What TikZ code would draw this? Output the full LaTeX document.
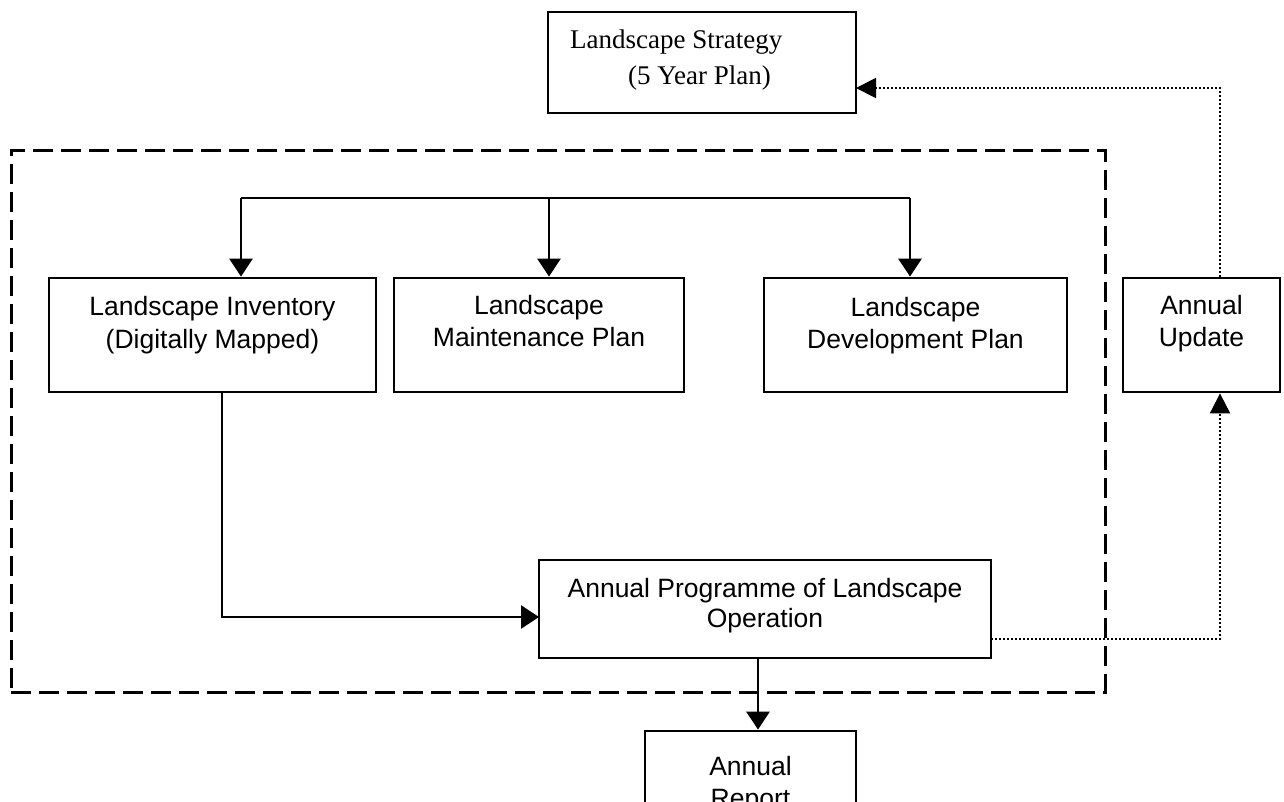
\documentclass[tikz,border=0pt]{standalone}
\usepackage{fontspec}
\setmainfont{Liberation Sans}
\newfontfamily\serifface{Liberation Serif}
\usetikzlibrary{arrows.meta}
\tikzset{
  box/.style={draw, line width=2.8pt, inner sep=0pt, rectangle},
  frame/.style={draw, line width=3pt, dash pattern=on 20pt off 8pt, inner sep=0pt, rectangle},
  conn/.style={line width=2.8pt},
  arr/.style={line width=2.8pt, -{Triangle[width=23pt,length=18pt]}},
  dotarr/.style={line width=2pt, dash pattern=on 2pt off 2pt, -{Triangle[width=20pt,length=20pt]}},
  txt/.style={font=\fontsize{26.5}{32}\selectfont, align=center, inner sep=0pt, anchor=north},
  sertxt/.style={font=\serifface\fontsize{27}{36}\selectfont, align=left, inner sep=0pt, anchor=north west}
}
\begin{document}
\begin{tikzpicture}[x=1pt,y=-1pt]
\clip (0,0) rectangle (1284,801);
\fill[white] (0,0) rectangle (1284,801);

% boxes
\node[box, minimum width=308pt, minimum height=101pt] (strat) at (702,62.5) {};
\node[frame, minimum width=1094pt, minimum height=542pt] (grp) at (558,421) {};
\node[box, minimum width=327pt, minimum height=114pt] (inv) at (212.5,335) {};
\node[box, minimum width=290pt, minimum height=114pt] (maint) at (539,335) {};
\node[box, minimum width=303pt, minimum height=114pt] (dev) at (915.5,335) {};
\node[box, minimum width=157pt, minimum height=114pt] (upd) at (1201.5,335) {};
\node[box, minimum width=452pt, minimum height=98pt] (prog) at (765,609) {};
\node[box, minimum width=211pt, minimum height=120pt] (rep) at (750.5,791) {};

% texts
\node[sertxt] (stratt) at (570,30) {Landscape Strategy\\\hspace*{58pt}(5 Year Plan)};
\node[txt, font=\fontsize{26.5}{33}\selectfont] (invt) at (212.5,296) {Landscape Inventory\\(Digitally Mapped)};
\node[txt] (maintt) at (539,295) {Landscape\\Maintenance Plan};
\node[txt] (devt) at (915.5,297) {Landscape\\Development Plan};
\node[txt] (updt) at (1201.5,295) {Annual\\Update};
\node[txt, font=\fontsize{26.5}{30}\selectfont] (progt) at (765,578) {Annual Programme of Landscape\\Operation};
\node[txt] (rept) at (750.5,756) {Annual\\Report};

% top distribution bus
\coordinate (busL) at (241,198);
\coordinate (busM) at (549,198);
\coordinate (busR) at (910,198);
\draw[conn] (busL) -- (busR);
\draw[arr] (busL) -- (busL |- inv.north);
\draw[arr] (busM) -- (busM |- maint.north);
\draw[arr] (busR) -- (busR |- dev.north);

% inventory to programme
\coordinate (invout) at (222,392);
\coordinate (progin) at (539,617);
\draw[arr] (invout |- inv.south) |- (progin);

% programme to report
\coordinate (prout) at (758,658);
\draw[arr] (prout |- prog.south) -- (prout |- rep.north);

% programme to annual update (dotted)
\coordinate (pu) at (991,639);
\coordinate (updin) at (1220,392);
\draw[dotarr] (pu) -| (updin |- upd.south);

% annual update to strategy (dotted)
\coordinate (updout) at (1220,278);
\coordinate (stratin) at (856,88);
\draw[dotarr] (updout |- upd.north) |- (stratin);
\end{tikzpicture}
\end{document}
